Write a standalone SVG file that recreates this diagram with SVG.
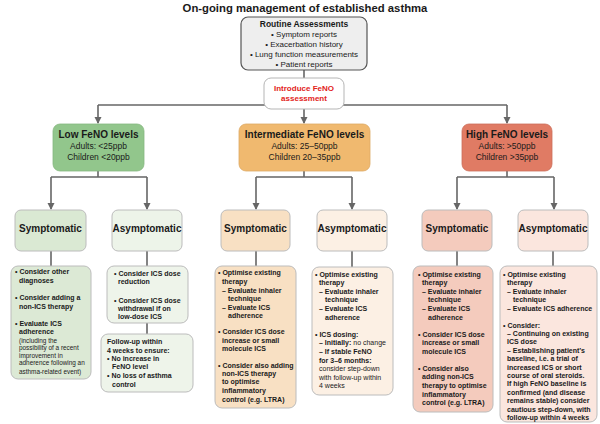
<svg xmlns="http://www.w3.org/2000/svg" width="600" height="424" viewBox="0 0 600 424">
<defs>
<marker id="ah" markerWidth="8" markerHeight="8" refX="6" refY="3.5" orient="auto" markerUnits="userSpaceOnUse">
<path d="M0,0 L7,3.5 L0,7 Z" fill="#666"/>
</marker>
<style>
text{font-family:"Liberation Sans",Arial,sans-serif;fill:#1a1a1a}
.title{font-size:11.3px;font-weight:bold;text-anchor:middle}
.rh{font-size:8.5px;font-weight:bold;text-anchor:middle}
.rl{font-size:8px;text-anchor:middle}
.red{font-size:8px;font-weight:bold;fill:#e2231a;text-anchor:middle}
.lt{font-size:10px;font-weight:bold;text-anchor:middle}
.ls{font-size:8.5px;text-anchor:middle}
.st{font-size:10px;font-weight:bold;text-anchor:middle}
.b{font-size:7px;font-weight:bold}
.n{font-size:7px}
.s{font-size:6.4px}
.con{fill:none;stroke:#666;stroke-width:1.6}
.arr{marker-end:url(#ah)}
.box{stroke:#bcbcbc;stroke-width:1}
</style>
</defs>
<rect width="600" height="424" fill="#ffffff"/>
<text class="title" x="305" y="12">On-going management of established asthma</text>

<g id="connectors">
<path class="con" d="M304,70 V78"/>
<path class="con" d="M98,105 H507"/>
<path class="con arr" d="M98,105 V123"/>
<path class="con arr" d="M507,105 V123"/>
<path class="con arr" d="M304,109 V123"/>
<path class="con" d="M98,171 V177 M51,177 H147"/>
<path class="con arr" d="M51,177 V209"/>
<path class="con arr" d="M147,177 V209"/>
<path class="con" d="M304,171 V177 M256,177 H352"/>
<path class="con arr" d="M256,177 V209"/>
<path class="con arr" d="M352,177 V209"/>
<path class="con" d="M507,171 V177 M457,177 H554"/>
<path class="con arr" d="M457,177 V209"/>
<path class="con arr" d="M554,177 V209"/>
<path class="con" d="M51,251 V266 M147,251 V266 M147,323 V334 M256,251 V266 M352,251 V267 M457,251 V266 M553,251 V266"/>
</g>

<g id="routine">
<rect x="241" y="17" width="126" height="53" rx="7" fill="#eeeeee" stroke="#555" stroke-width="1.2"/>
<text class="rh" x="304" y="27">Routine Assessments</text>
<text class="rl" x="304" y="37">• Symptom reports</text>
<text class="rl" x="304" y="46.5">• Exacerbation history</text>
<text class="rl" x="304" y="56.5">• Lung function measurements</text>
<text class="rl" x="304" y="66.5">• Patient reports</text>
</g>

<g id="feno">
<rect x="264" y="78" width="80" height="31" rx="7" fill="#ffffff" stroke="#b5b5b5" stroke-width="1"/>
<text class="red" x="304" y="91">Introduce FeNO</text>
<text class="red" x="304" y="101">assessment</text>
</g>

<g id="low">
<rect x="53" y="124" width="91" height="47" rx="7" fill="#92c68c" stroke="#86b880" stroke-width="0.8"/>
<text class="lt" x="98.5" y="137.5">Low FeNO levels</text>
<text class="ls" x="98.5" y="148.7">Adults: &lt;25ppb</text>
<text class="ls" x="98.5" y="159.7">Children &lt;20ppb</text>
</g>
<g id="intermediate">
<rect x="239" y="124" width="131" height="47" rx="7" fill="#f0b96f" stroke="#ddaa66" stroke-width="0.8"/>
<text class="lt" x="304.5" y="137.5">Intermediate FeNO levels</text>
<text class="ls" x="304.5" y="148.7">Adults: 25–50ppb</text>
<text class="ls" x="304.5" y="159.7">Children 20–35ppb</text>
</g>
<g id="high">
<rect x="462" y="124" width="90" height="47" rx="7" fill="#e07b64" stroke="#cc6f5a" stroke-width="0.8"/>
<text class="lt" x="507" y="137.5">High FeNO levels</text>
<text class="ls" x="507" y="148.7">Adults: &gt;50ppb</text>
<text class="ls" x="507" y="159.7">Children &gt;35ppb</text>
</g>

<g id="low-sym">
<rect class="box" x="15" y="210" width="71" height="41" rx="6" fill="#dae9d3"/>
<text class="st" x="50.5" y="231.5">Symptomatic</text>
</g>
<g id="low-asym">
<rect class="box" x="112" y="210" width="70" height="41" rx="6" fill="#edf4e9"/>
<text class="st" x="147" y="231.5">Asymptomatic</text>
</g>
<g id="int-sym">
<rect class="box" x="221" y="210" width="69" height="41" rx="6" fill="#f8e0c3"/>
<text class="st" x="255.5" y="231.5">Symptomatic</text>
</g>
<g id="int-asym">
<rect class="box" x="317" y="210" width="70" height="41" rx="6" fill="#fcf0e4"/>
<text class="st" x="352" y="231.5">Asymptomatic</text>
</g>
<g id="high-sym">
<rect class="box" x="422" y="210" width="70" height="41" rx="6" fill="#f4cbbd"/>
<text class="st" x="457" y="231.5">Symptomatic</text>
</g>
<g id="high-asym">
<rect class="box" x="518" y="210" width="70" height="41" rx="6" fill="#fbe6de"/>
<text class="st" x="553" y="231.5">Asymptomatic</text>
</g>

<g id="low-sym-detail">
<rect class="box" x="11" y="266" width="80" height="113" rx="7" fill="#dce9d5"/>
<text class="b" x="15" y="274">• Consider other</text>
<text class="b" x="19" y="283">diagnoses</text>
<text class="b" x="15" y="299.5">• Consider adding a</text>
<text class="b" x="19" y="308.5">non-ICS therapy</text>
<text class="b" x="15" y="326">• Evaluate ICS</text>
<text class="b" x="19" y="334">adherence</text>
<text class="s" x="19" y="342.5">(including the</text>
<text class="s" x="19" y="350">possibility of a recent</text>
<text class="s" x="19" y="357.5">improvement in</text>
<text class="s" x="19" y="365">adherence following an</text>
<text class="s" x="19" y="373.5">asthma-related event)</text>
</g>

<g id="low-asym-detail">
<rect class="box" x="107" y="266" width="81" height="57" rx="7" fill="#eef4ea"/>
<text class="b" x="114" y="276">• Consider ICS dose</text>
<text class="b" x="118" y="284">reduction</text>
<text class="b" x="114" y="302.5">• Consider ICS dose</text>
<text class="b" x="118" y="311">withdrawal if on</text>
<text class="b" x="118" y="319">low-dose ICS</text>
</g>

<g id="low-followup">
<rect class="box" x="101" y="334" width="92" height="58" rx="7" fill="#eef4ea"/>
<text class="b" x="107" y="344">Follow-up within</text>
<text class="b" x="107" y="352.5">4 weeks to ensure:</text>
<text class="b" x="107" y="361">• No increase in</text>
<text class="b" x="112" y="369">FeNO level</text>
<text class="b" x="107" y="377.5">• No loss of asthma</text>
<text class="b" x="112" y="386.5">control</text>
</g>

<g id="int-sym-detail">
<rect class="box" x="215" y="266" width="81" height="142" rx="7" fill="#f8e0c3"/>
<text class="b" x="218" y="275">• Optimise existing</text>
<text class="b" x="222" y="283.5">therapy</text>
<text class="b" x="222" y="292.5">– Evaluate inhaler</text>
<text class="b" x="228" y="301">technique</text>
<text class="b" x="222" y="310">– Evaluate ICS</text>
<text class="b" x="228" y="318">adherence</text>
<text class="b" x="218" y="334">• Consider ICS dose</text>
<text class="b" x="222" y="342.5">increase or small</text>
<text class="b" x="222" y="351">molecule ICS</text>
<text class="b" x="218" y="367.5">• Consider also adding</text>
<text class="b" x="222" y="376">non-ICS therapy</text>
<text class="b" x="222" y="384">to optimise</text>
<text class="b" x="222" y="392.5">inflammatory</text>
<text class="b" x="222" y="401.5">control (e.g. LTRA)</text>
</g>

<g id="int-asym-detail">
<rect class="box" x="312" y="267" width="81" height="128" rx="7" fill="#fcf0e4"/>
<text class="b" x="315" y="277">• Optimise existing</text>
<text class="b" x="319" y="285">therapy</text>
<text class="b" x="319" y="293.5">– Evaluate inhaler</text>
<text class="b" x="325" y="302">technique</text>
<text class="b" x="319" y="311">– Evaluate ICS</text>
<text class="b" x="325" y="320">adherence</text>
<text class="b" x="315" y="337">• ICS dosing:</text>
<text class="b" x="319" y="345">– Initially:<tspan class="n" font-weight="normal"> no change</tspan></text>
<text class="b" x="319" y="354">– If stable FeNO</text>
<text class="b" x="319" y="362.5">for 3–6 months:</text>
<text class="n" x="319" y="371">consider step-down</text>
<text class="n" x="319" y="379.5">with follow-up within</text>
<text class="n" x="319" y="388">4 weeks</text>
</g>

<g id="high-sym-detail">
<rect class="box" x="413" y="266" width="80" height="146" rx="7" fill="#f4cbbd"/>
<text class="b" x="418" y="277">• Optimise existing</text>
<text class="b" x="422" y="285">therapy</text>
<text class="b" x="422" y="293.5">– Evaluate inhaler</text>
<text class="b" x="428" y="302">technique</text>
<text class="b" x="422" y="311">– Evaluate ICS</text>
<text class="b" x="428" y="319.5">adherence</text>
<text class="b" x="418" y="337">• Consider ICS dose</text>
<text class="b" x="422" y="345">increase or small</text>
<text class="b" x="422" y="354">molecule ICS</text>
<text class="b" x="418" y="370.5">• Consider also</text>
<text class="b" x="422" y="379">adding non-ICS</text>
<text class="b" x="422" y="388">therapy to optimise</text>
<text class="b" x="422" y="396.5">inflammatory</text>
<text class="b" x="422" y="405">control (e.g. LTRA)</text>
</g>

<g id="high-asym-detail">
<rect class="box" x="500" y="266" width="97" height="156" rx="7" fill="#fbe6de"/>
<text class="b" x="503" y="277">• Optimise existing</text>
<text class="b" x="507" y="285">therapy</text>
<text class="b" x="507" y="293.5">– Evaluate inhaler</text>
<text class="b" x="513" y="302">technique</text>
<text class="b" x="507" y="311">– Evaluate ICS adherence</text>
<text class="b" x="503" y="327.5">• Consider:</text>
<text class="b" x="507" y="336">– Continuing on existing</text>
<text class="b" x="507" y="344.3">ICS dose</text>
<text class="b" x="507" y="352.7">– Establishing patient’s</text>
<text class="b" x="507" y="361">baseline, i.e. a trial of</text>
<text class="b" x="507" y="369.5">increased ICS or short</text>
<text class="b" x="507" y="378">course of oral steroids.</text>
<text class="b" x="507" y="386.3">If high FeNO baseline is</text>
<text class="b" x="507" y="394.7">confirmed (and disease</text>
<text class="b" x="507" y="403">remains stable) consider</text>
<text class="b" x="507" y="411.5">cautious step-down, with</text>
<text class="b" x="507" y="420">follow-up within 4 weeks</text>
</g>
</svg>
